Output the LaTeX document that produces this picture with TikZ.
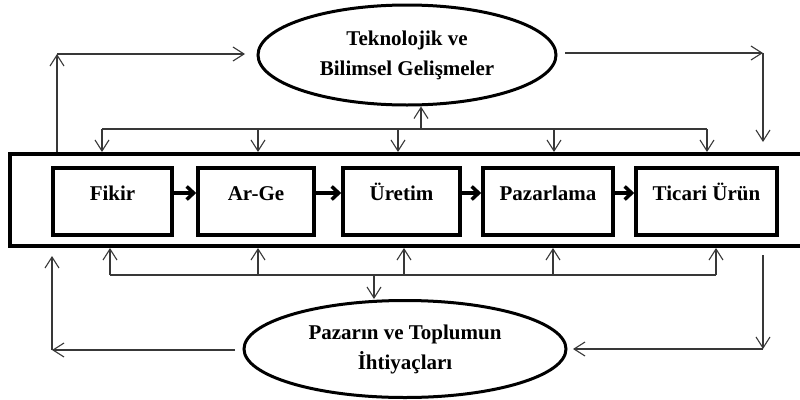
\documentclass[tikz,border=0pt]{standalone}
\usepackage{fontspec}
\setmainfont{Liberation Serif}
\usetikzlibrary{shapes.geometric,arrows.meta}

\begin{document}
\begin{tikzpicture}[x=1pt,y=-1pt]
        \tikzstyle{every node}=[font=\fontsize{21}{30}\selectfont\bfseries]
        \tikzstyle{stage}=[draw,shape=rectangle,line width=3.5pt,minimum height=67pt,inner sep=0pt,text height=14pt,text depth=17pt]
        \tikzstyle{source}=[draw,shape=ellipse,line width=3pt,inner sep=0pt,align=center]
        \tikzstyle{link}=[draw=black!78,line width=1.1pt]
        \tikzstyle{flow}=[link,-{Straight Barb[length=11pt,width=14pt]}]
        \tikzstyle{push}=[line width=3.5pt,-{Straight Barb[length=7pt,width=13pt]}]
            \clip (0,0) rectangle (800,399);

            \node[draw,line width=4pt,minimum width=796pt,minimum height=92pt,inner sep=0pt] (frame) at (408,200) {};

            \node[source,minimum width=298pt,minimum height=100pt] (tech) at (407,55) {Teknolojik ve\\Bilimsel Gelişmeler};
            \node[source,minimum width=322pt,minimum height=97pt] (need) at (405,349) {Pazarın ve Toplumun\\İhtiyaçları};

            \node[stage,minimum width=119pt] (idea) at (112.5,201.5) {Fikir};
            \node[stage,minimum width=116pt] (rnd) at (256,201.5) {Ar-Ge};
            \node[stage,minimum width=117pt] (prod) at (401.5,201.5) {Üretim};
            \node[stage,minimum width=130pt] (mkt) at (548,201.5) {Pazarlama};
            \node[stage,minimum width=141pt] (good) at (706.5,201.5) {Ticari Ürün};

            \foreach \a/\b in {idea/rnd,rnd/prod,prod/mkt,mkt/good}
                \draw[push] ([yshift=8.5pt]\a.east) -- ([yshift=8.5pt]\b.west);

            % top side
            \coordinate (techbusL) at (102,129);
            \coordinate (techbusR) at (707,129);
            \draw[link] (techbusL) -- (techbusR);
            \foreach \x in {102,258,398,554,707}
                \draw[flow] (\x,0 |- techbusL) -- (\x,0 |- frame.north);
            \draw[flow] (421,0 |- techbusL) -- (421,0 |- tech.south);

            \coordinate (upL) at (57,54);
            \coordinate (upLend) at (245,54);
            \draw[flow] (upL |- frame.north) -- (upL);
            \draw[flow] (upL) -- (upLend);

            \coordinate (upRstart) at (565,53);
            \coordinate (upR) at (763,53);
            \coordinate (upRend) at (763,142);
            \draw[flow] (upRstart) -- (upR);
            \draw[flow] (upR) -- (upRend);

            % bottom side
            \coordinate (needbusL) at (110,275);
            \coordinate (needbusR) at (716,275);
            \draw[link] (needbusL) -- (needbusR);
            \foreach \x in {110,258,404,553,716}
                \draw[flow] (\x,0 |- needbusL) -- (\x,0 |- frame.south);
            \draw[flow] (374,0 |- needbusL) -- (374,0 |- need.north);

            \coordinate (dnLstart) at (235,350);
            \coordinate (dnL) at (52,350);
            \coordinate (dnLend) at (52,256);
            \draw[flow] (dnLstart) -- (dnL);
            \draw[flow] (dnL) -- (dnLend);

            \coordinate (dnRstart) at (763,255);
            \coordinate (dnR) at (763,349);
            \coordinate (dnRend) at (573,349);
            \draw[flow] (dnRstart) -- (dnR);
            \draw[flow] (dnR) -- (dnRend);
        \end{tikzpicture}
\end{document}
